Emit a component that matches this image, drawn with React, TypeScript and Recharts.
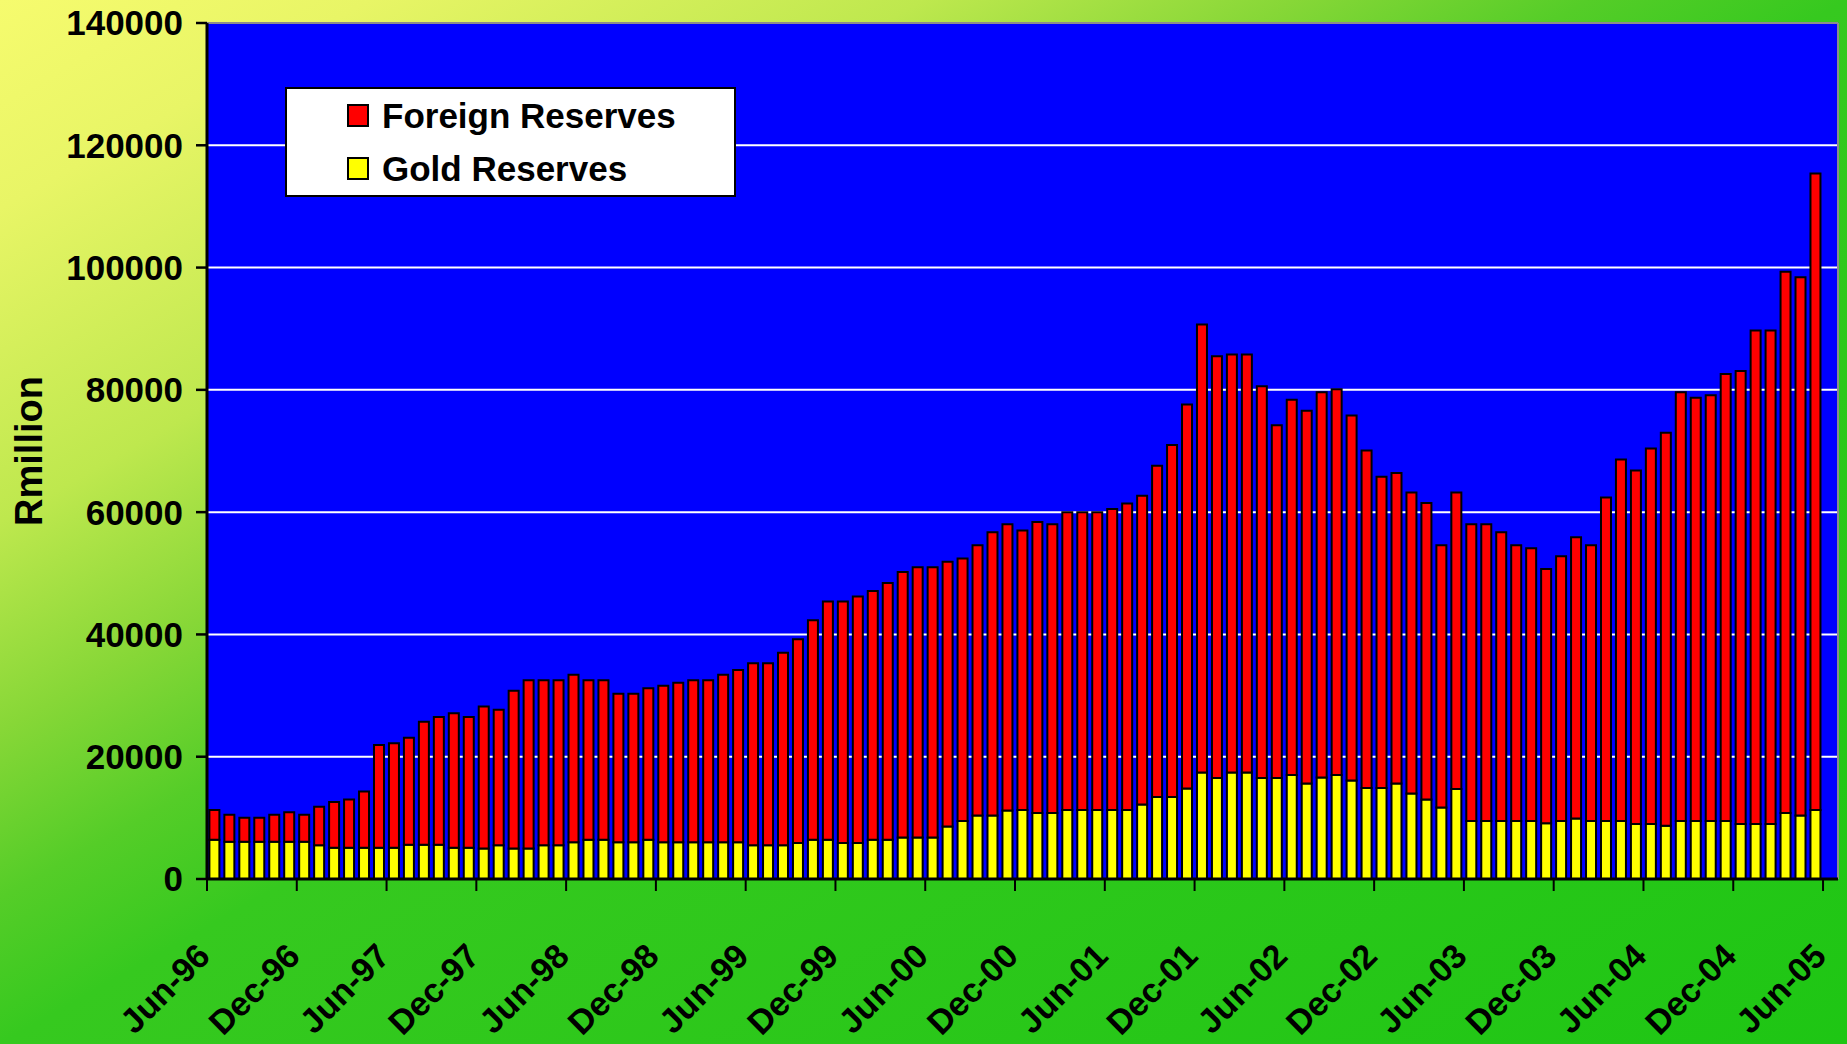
import { BarChart, Bar, XAxis, YAxis, CartesianGrid, Legend } from "recharts";

const W = 1847;
const H = 1044;
const FONT = "'Liberation Sans', Arial, Helvetica, sans-serif";

// plot box
const LEFT = 207;
const RIGHT = 9;
const TOP = 23;
const BOTTOM = 165;

const monthNames = ["Jan", "Feb", "Mar", "Apr", "May", "Jun", "Jul", "Aug", "Sep", "Oct", "Nov", "Dec"];

// monthly categories Jun-96 .. Jun-05
const months: string[] = [];
for (let i = 0; i < 109; i++) {
  const m = (5 + i) % 12;
  const y = (96 + Math.floor((5 + i) / 12)) % 100;
  months.push(`${monthNames[m]}-${String(y).padStart(2, "0")}`);
}

const tickLabels = [
  "Jun-96", "Dec-96", "Jun-97", "Dec-97", "Jun-98", "Dec-98", "Jun-99", "Dec-99",
  "Jun-00", "Dec-00", "Jun-01", "Dec-01", "Jun-02", "Dec-02", "Jun-03", "Dec-03",
  "Jun-04", "Dec-04", "Jun-05",
];

const yTicks = [0, 20000, 40000, 60000, 80000, 100000, 120000, 140000];

// R million
const goldReserves = [
  6400, 6100, 6100, 6100, 6100, 6100, 6100, 5500, 5100, 5100, 5100, 5100, 5100, 5600, 5600, 5600, 5100, 5100,
  5000, 5500, 5000, 5000, 5500, 5500, 6000, 6400, 6400, 6000, 6000, 6400, 6000, 6000, 6000, 6000, 6000, 6000,
  5500, 5500, 5500, 5900, 6400, 6400, 5900, 5900, 6400, 6400, 6800, 6800, 6800, 8600, 9500, 10400, 10400, 11200,
  11300, 10800, 10800, 11300, 11300, 11300, 11300, 11300, 12200, 13400, 13400, 14800, 17400, 16500, 17400, 17400, 16500, 16500,
  17000, 15600, 16600, 17000, 16100, 14900, 14900, 15600, 14000, 13000, 11700, 14700, 9500, 9500, 9500, 9500, 9500, 9100,
  9500, 9900, 9500, 9500, 9500, 9000, 9000, 8700, 9500, 9500, 9500, 9500, 9000, 9000, 9000, 10800, 10400, 11300,
];

const foreignReserves = [
  4900, 4400, 3900, 3900, 4400, 4800, 4400, 6300, 7500, 7900, 9200, 16800, 17100, 17500, 20100, 20900, 22000, 21400,
  23200, 22200, 25800, 27500, 27000, 27000, 27400, 26100, 26100, 24300, 24300, 24800, 25600, 26100, 26500, 26500, 27400, 28200,
  29800, 29800, 31500, 33300, 35900, 39000, 39500, 40300, 40700, 42000, 43400, 44200, 44200, 43300, 42900, 44200, 46300, 46800,
  45700, 47600, 47200, 48700, 48700, 48700, 49200, 50100, 50500, 54200, 57600, 62800, 73300, 69000, 68400, 68400, 64100, 57700,
  61400, 61000, 63000, 63100, 59700, 55200, 50900, 50800, 49200, 48500, 42900, 48500, 48500, 48500, 47200, 45100, 44600, 41600,
  43300, 46000, 45100, 52900, 59100, 57800, 61400, 64300, 70100, 69200, 69600, 73100, 74100, 80700, 80700, 88500, 88000, 104100,
];

const data = months.map((month, i) => ({
  month,
  gold: goldReserves[i],
  foreign: foreignReserves[i],
}));

const legendOrder = ["Foreign Reserves", "Gold Reserves"];

const BAND = (W - LEFT - RIGHT) / months.length;

function MonthTick(props: any) {
  const { x, y, payload } = props;
  if (!tickLabels.includes(payload.value)) return null;
  const tx = x - BAND / 2;
  const ax = tx + 5;
  const ay = y + 79;
  return (
    <g>
      <line x1={tx} y1={y} x2={tx} y2={y + 12} stroke="#000" strokeWidth={2} />
      <text
        x={ax}
        y={ay}
        transform={`rotate(-45, ${ax}, ${ay})`}
        textAnchor="end"
        fontSize={34}
        fontWeight="bold"
        fontFamily={FONT}
        fill="#000"
      >
        {payload.value}
      </text>
    </g>
  );
}

function YLabel(props: any) {
  const vb = props.viewBox || { x: 0, y: TOP, width: LEFT, height: H - TOP - BOTTOM };
  const cx = vb.x + 29;
  const cy = vb.y + vb.height / 2;
  return (
    <text
      x={cx}
      y={cy}
      transform={`rotate(-90, ${cx}, ${cy})`}
      textAnchor="middle"
      dominantBaseline="central"
      fontSize={38}
      fontWeight="bold"
      fontFamily={FONT}
      fill="#000"
    >
      Rmillion
    </text>
  );
}

function LegendBox(props: any) {
  const items = [...(props.payload || [])].sort(
    (a: any, b: any) => legendOrder.indexOf(a.value) - legendOrder.indexOf(b.value)
  );
  return (
    <div
      style={{
        boxSizing: "border-box",
        width: 451,
        height: 110,
        background: "#fff",
        border: "2px solid #000",
      }}
    >
      {items.map((it: any) => (
        <div key={it.value} style={{ display: "flex", alignItems: "center", height: 53, paddingLeft: 60 }}>
          <span
            style={{
              display: "inline-block",
              width: 22,
              height: 23,
              boxSizing: "border-box",
              background: it.color,
              border: "2px solid #000",
              marginRight: 13,
            }}
          />
          <span style={{ fontFamily: FONT, fontWeight: "bold", fontSize: 35, color: "#000", lineHeight: 1 }}>
            {it.value}
          </span>
        </div>
      ))}
    </div>
  );
}

export default function App() {
  return (
    <div
      style={{
        position: "absolute",
        left: 0,
        top: 0,
        width: W,
        height: H,
        background:
          "linear-gradient(to bottom right, #f6fb6e 0%, #e8f566 10%, #bee84e 25%, #87d737 35%, #55cd28 43%, #36c91f 50%, #1ec614 100%)",
      }}
    >
      <BarChart
        width={W}
        height={H}
        data={data}
        margin={{ top: 0, right: 0, bottom: 0, left: 0 }}
        barCategoryGap="16%"
      >
        <CartesianGrid vertical={false} stroke="#ffffff" strokeWidth={2} fill="#0000FF" fillOpacity={1} />
        <Bar
          dataKey="gold"
          name="Gold Reserves"
          stackId="r"
          fill="#FFFF00"
          stroke="#000"
          strokeWidth={2}
          isAnimationActive={false}
        />
        <Bar
          dataKey="foreign"
          name="Foreign Reserves"
          stackId="r"
          fill="#FF0000"
          stroke="#000"
          strokeWidth={2}
          isAnimationActive={false}
        />
        <XAxis
          xAxisId="top"
          orientation="top"
          dataKey="month"
          height={TOP}
          tick={false}
          tickLine={false}
          axisLine={{ stroke: "#8c8c8c", strokeWidth: 2 }}
        />
        <YAxis
          yAxisId="right"
          orientation="right"
          width={RIGHT}
          tick={false}
          tickLine={false}
          axisLine={{ stroke: "#8c8c8c", strokeWidth: 2 }}
        />
        <XAxis
          dataKey="month"
          height={BOTTOM}
          interval={0}
          tickSize={0}
          tickMargin={0}
          tickLine={false}
          tick={MonthTick}
          axisLine={{ stroke: "#000", strokeWidth: 3 }}
        />
        <YAxis
          width={LEFT}
          domain={[0, 140000]}
          ticks={yTicks}
          interval={0}
          tickSize={11}
          tickMargin={13}
          tickLine={{ stroke: "#000", strokeWidth: 2.5 }}
          axisLine={{ stroke: "#000", strokeWidth: 3 }}
          tick={{ fill: "#000", fontSize: 35, fontWeight: "bold", fontFamily: FONT }}
          label={{ content: YLabel }}
        />
        <Legend
          layout="vertical"
          align="center"
          verticalAlign="middle"
          content={LegendBox}
          wrapperStyle={{ top: 87, left: 285, width: 451, height: 110 }}
        />
      </BarChart>
    </div>
  );
}
